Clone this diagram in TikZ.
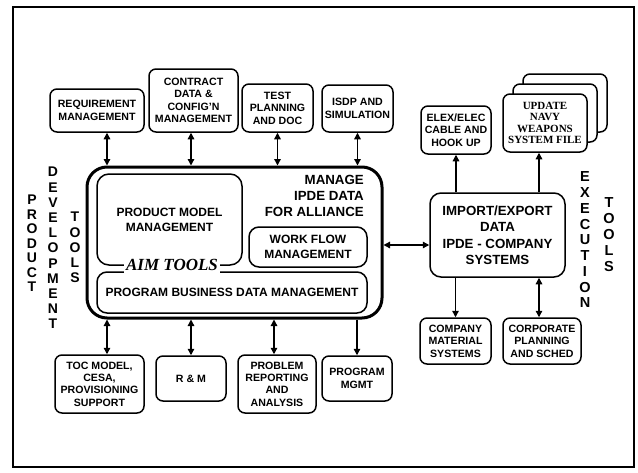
\documentclass[tikz,border=0pt]{standalone}
\usepackage{fontspec}
\setmainfont{Liberation Sans}
\newfontfamily\timesfont{Liberation Serif}
\usetikzlibrary{arrows.meta}

\tikzset{
  blk/.style={draw, line width=1.5, rounded corners=7, fill=white, align=center, inner sep=0pt,
    font=\bfseries\fontsize{10.6}{12.4}\selectfont},
  sub/.style={blk, rounded corners=10, font=\bfseries\fontsize{12}{15}\selectfont},
  vtext/.style={align=center, inner sep=0pt, font=\bfseries\fontsize{14}{15.2}\selectfont},
  arr/.style={line width=1.3, -{Triangle[length=6.5pt,width=6.5pt]}},
  darr/.style={line width=1.3, {Triangle[length=6.5pt,width=6.5pt]}-{Triangle[length=6.5pt,width=6.5pt]}},
}

\begin{document}
\begin{tikzpicture}[x=1pt,y=1pt,yscale=-1]
\useasboundingbox (0,0) rectangle (638,472);
\draw[line width=2.5] (13,7) rectangle (634,467);

% product development tools
\node[blk, minimum width=94, minimum height=43] (req) at (97,110.5) {REQUIREMENT\\MANAGEMENT};
\node[blk, minimum width=89, minimum height=63] (con) at (193.5,100.5) {CONTRACT\\DATA \&\\CONFIG'N\\MANAGEMENT};
\node[blk, minimum width=71, minimum height=48] (tst) at (277.5,108) {TEST\\PLANNING\\AND DOC};
\node[blk, minimum width=71, minimum height=47] (isdp) at (357.5,108.5) {ISDP AND\\SIMULATION};

\node[blk, minimum width=89, minimum height=58] (toc) at (99.5,384) {TOC MODEL,\\CESA,\\PROVISIONING\\SUPPORT};
\node[blk, minimum width=70, minimum height=45] (rm) at (191,378.5) {R \& M};
\node[blk, minimum width=78, minimum height=58] (prb) at (277,384) {PROBLEM\\REPORTING\\AND\\ANALYSIS};
\node[blk, minimum width=70, minimum height=45] (pgm) at (357,378.5) {PROGRAM\\MGMT};

% aim tools
\node[draw, line width=3, rounded corners=20, fill=white, minimum width=295, minimum height=151] (aim) at (234.5,242.5) {};
\node[sub, rounded corners=12, minimum width=145, minimum height=91] (pmm) at (169.5,219.5) {PRODUCT MODEL\\MANAGEMENT};
\node[sub, minimum width=118, minimum height=40] (wfm) at (308,247) {WORK FLOW\\MANAGEMENT};
\node[sub, minimum width=270, minimum height=41] (pbd) at (232,292.5) {PROGRAM BUSINESS DATA MANAGEMENT};
\node[anchor=north east, align=right, inner sep=0pt, font=\bfseries\fontsize{13.3}{15.8}\selectfont] (ipde) at (364,175) {MANAGE\\IPDE DATA\\FOR ALLIANCE};
\node[fill=white, inner sep=2pt, font=\timesfont\bfseries\itshape\fontsize{17}{17}\selectfont] (aimlbl) at (172,265) {AIM TOOLS};

% execution tools
\node[blk, rounded corners=11, minimum width=135, minimum height=84, font=\bfseries\fontsize{13.3}{16.5}\selectfont] (imp) at (497.5,235) {IMPORT/EXPORT\\DATA\\IPDE - COMPANY\\SYSTEMS};
\node[blk, minimum width=70, minimum height=48] (elx) at (456,130) {ELEX/ELEC\\CABLE AND\\HOOK UP};
\node[blk, minimum width=84, minimum height=58] (upd3) at (565,103) {};
\node[blk, minimum width=84, minimum height=58] (upd2) at (555,113) {};
\node[blk, minimum width=84, minimum height=58, font=\timesfont\bfseries\fontsize{11}{11.5}\selectfont] (upd) at (545,123) {UPDATE\\NAVY\\WEAPONS\\SYSTEM FILE};
\node[blk, minimum width=71, minimum height=46] (cms) at (455.5,341) {COMPANY\\MATERIAL\\SYSTEMS};
\node[blk, minimum width=78, minimum height=46] (cps) at (542,341) {CORPORATE\\PLANNING\\AND SCHED};

% side labels
\node[vtext, font=\bfseries\fontsize{14}{14.5}\selectfont] (prod) at (32,243.5) {P\\R\\O\\D\\U\\C\\T};
\node[vtext] (devl) at (53,248) {D\\E\\V\\E\\L\\O\\P\\M\\E\\N\\T};
\node[vtext] (ltools) at (75,247.5) {T\\O\\O\\L\\S};
\node[vtext, font=\bfseries\fontsize{14.5}{15.75}\selectfont] (exec) at (585,240) {E\\X\\E\\C\\U\\T\\I\\O\\N};
\node[vtext, font=\bfseries\fontsize{14.5}{16}\selectfont] (rtools) at (609,235) {T\\O\\O\\L\\S};

% connectors
\draw[darr] ([xshift=10]req.south) -- ([xshift=10]req.south |- aim.north);
\draw[darr] ([xshift=-2.5]con.south) -- ([xshift=-2.5]con.south |- aim.north);
\draw[darr] (tst.south) -- (tst.south |- aim.north);
\draw[darr] (isdp.south) -- (isdp.south |- aim.north);
\draw[darr] ([xshift=7.5]toc.north) -- ([xshift=7.5]toc.north |- aim.south);
\draw[darr] (rm.north) -- (rm.north |- aim.south);
\draw[darr] ([xshift=-3]prb.north) -- ([xshift=-3]prb.north |- aim.south);
\draw[arr] (pgm.north |- aim.south) -- (pgm.north);
\draw[darr] ([yshift=2.5]aim.east) -- ([yshift=2.5]aim.east -| imp.west);
\draw[arr] (imp.north -| elx.south) -- (elx.south);
\draw[arr] ([xshift=-6]upd.south |- imp.north) -- ([xshift=-6]upd.south);
\draw[arr] (imp.south -| cms.north) -- (cms.north);
\draw[darr] ([xshift=-3]cps.north |- imp.south) -- ([xshift=-3]cps.north);
\end{tikzpicture}
\end{document}
